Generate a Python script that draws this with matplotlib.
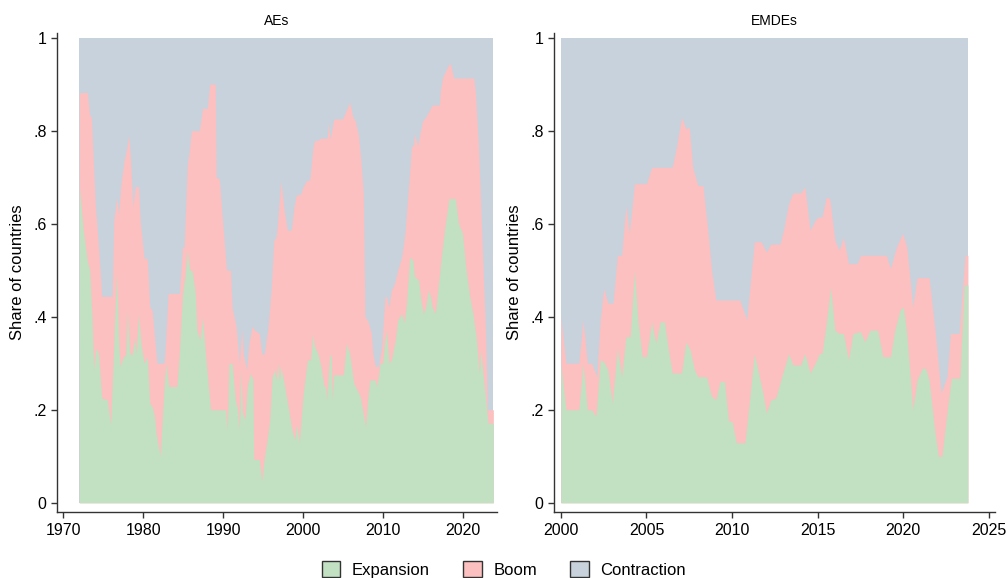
import numpy as np
import matplotlib
matplotlib.use("Agg")
import matplotlib.pyplot as plt
from matplotlib.patches import Patch

plt.rcParams['font.family'] = ['Liberation Sans', 'DejaVu Sans']

# AEs: top of Boom band (Expansion + Boom)
ae_total_x = [1972.0, 1972.3, 1973.0, 1973.3, 1973.5, 1974.0, 1974.4, 1974.8, 1976.1, 1976.3, 1976.7,
              1976.9, 1977.2, 1977.6, 1977.8, 1978.2, 1978.4, 1978.7, 1979.0, 1979.4, 1979.6, 1980.1,
              1980.5, 1980.8, 1981.1, 1981.7, 1982.6, 1982.8, 1983.1, 1984.5, 1984.9, 1985.1, 1985.5,
              1985.7, 1986.0, 1987.0, 1987.4, 1988.0, 1988.3, 1989.0, 1989.1, 1989.5, 1989.9, 1990.4,
              1990.9, 1991.1, 1991.6, 1992.0, 1992.3, 1992.5, 1992.9, 1993.2, 1993.6, 1993.9, 1994.5,
              1994.8, 1995.1, 1995.6, 1996.0, 1996.3, 1996.6, 1996.8, 1997.2, 1997.6, 1998.0, 1998.5,
              1998.8, 1999.1, 1999.7, 1999.95, 2000.4, 2000.8, 2001.2, 2001.4, 2001.8, 2002.2, 2003.0,
              2003.1, 2003.35, 2003.8, 2004.9, 2005.8, 2006.2, 2006.5, 2006.9, 2007.2, 2007.5, 2007.7,
              2008.1, 2008.5, 2008.7, 2009.0, 2009.4, 2009.8, 2010.2, 2010.4, 2010.7, 2011.0, 2011.4,
              2011.8, 2012.3, 2012.7, 2013.3, 2013.5, 2013.8, 2013.9, 2014.3, 2014.6, 2014.9, 2015.3,
              2016.1, 2017.0, 2017.1, 2017.4, 2018.2, 2018.4, 2018.8, 2021.3, 2021.5, 2021.9, 2022.4,
              2022.8, 2023.0, 2023.75]
ae_total = [0.88, 0.882, 0.882, 0.832, 0.83, 0.64, 0.55, 0.444, 0.444, 0.607, 0.657,
            0.62, 0.686, 0.736, 0.75, 0.79, 0.736, 0.636, 0.68, 0.68, 0.607, 0.525,
            0.525, 0.421, 0.414, 0.30, 0.30, 0.35, 0.45, 0.45, 0.55, 0.55, 0.729,
            0.75, 0.80, 0.80, 0.848, 0.848, 0.90, 0.90, 0.70, 0.696, 0.607, 0.50,
            0.50, 0.42, 0.379, 0.30, 0.375, 0.32, 0.286, 0.343, 0.38, 0.371, 0.364,
            0.321, 0.318, 0.379, 0.464, 0.564, 0.571, 0.607, 0.693, 0.629, 0.586, 0.586,
            0.632, 0.661, 0.664, 0.679, 0.693, 0.693, 0.764, 0.779, 0.779, 0.784, 0.784,
            0.818, 0.782, 0.825, 0.825, 0.861, 0.829, 0.821, 0.789, 0.736, 0.664, 0.40,
            0.39, 0.364, 0.32, 0.293, 0.293, 0.336, 0.443, 0.443, 0.421, 0.457, 0.471,
            0.50, 0.529, 0.579, 0.714, 0.764, 0.771, 0.793, 0.768, 0.796, 0.821, 0.829,
            0.855, 0.855, 0.882, 0.914, 0.943, 0.943, 0.913, 0.913, 0.886, 0.764, 0.536,
            0.357, 0.20, 0.20]

# AEs: top of Expansion band
ae_exp_x = [1972.0, 1972.5, 1973.0, 1973.3, 1973.6, 1973.8, 1974.05, 1974.4, 1974.8, 1975.5, 1975.9,
            1976.1, 1976.5, 1976.7, 1976.9, 1977.1, 1977.5, 1977.8, 1978.0, 1978.3, 1978.6, 1978.9,
            1979.1, 1979.4, 1979.7, 1980.1, 1980.5, 1980.8, 1981.1, 1981.4, 1981.6, 1982.1, 1982.6,
            1982.8, 1983.2, 1984.2, 1984.5, 1984.9, 1985.2, 1985.5, 1985.8, 1986.1, 1986.5, 1986.7,
            1987.1, 1987.4, 1987.8, 1988.4, 1990.3, 1990.5, 1990.7, 1991.1, 1991.5, 1991.8, 1992.0,
            1992.2, 1992.4, 1992.7, 1993.0, 1993.4, 1993.7, 1993.8, 1994.5, 1994.8, 1995.1, 1995.6,
            1995.8, 1996.1, 1996.4, 1996.6, 1996.8, 1997.0, 1997.2, 1997.6, 1998.1, 1998.5, 1998.9,
            1999.2, 1999.5, 1999.95, 2000.5, 2000.9, 2001.2, 2001.4, 2001.8, 2002.2, 2002.6, 2002.8,
            2002.9, 2003.3, 2003.5, 2003.6, 2003.8, 2005.0, 2005.4, 2005.8, 2006.3, 2006.9, 2007.1,
            2007.8, 2008.0, 2008.3, 2009.0, 2009.2, 2009.6, 2009.9, 2010.2, 2010.4, 2010.7, 2011.0,
            2011.5, 2011.8, 2012.3, 2012.6, 2012.9, 2013.3, 2013.7, 2013.9, 2014.4, 2014.7, 2015.0,
            2015.3, 2015.6, 2015.9, 2016.1, 2016.5, 2016.9, 2017.3, 2017.7, 2018.2, 2019.0, 2019.4,
            2019.9, 2020.3, 2020.8, 2021.2, 2021.6, 2022.0, 2022.2, 2022.5, 2022.8, 2023.1, 2023.75]
ae_exp = [0.68, 0.586, 0.52, 0.50, 0.393, 0.286, 0.332, 0.321, 0.225, 0.221, 0.168,
          0.25, 0.429, 0.493, 0.35, 0.293, 0.314, 0.318, 0.414, 0.321, 0.318, 0.354,
          0.321, 0.407, 0.343, 0.30, 0.314, 0.214, 0.207, 0.186, 0.15, 0.10, 0.25,
          0.30, 0.25, 0.25, 0.321, 0.45, 0.486, 0.543, 0.50, 0.50, 0.45, 0.371,
          0.35, 0.40, 0.314, 0.20, 0.20, 0.157, 0.30, 0.30, 0.221, 0.20, 0.157,
          0.286, 0.193, 0.179, 0.25, 0.279, 0.264, 0.093, 0.093, 0.046, 0.093, 0.15,
          0.179, 0.271, 0.286, 0.264, 0.30, 0.264, 0.293, 0.257, 0.207, 0.164, 0.136,
          0.168, 0.129, 0.229, 0.307, 0.307, 0.364, 0.336, 0.321, 0.293, 0.25, 0.25,
          0.221, 0.32, 0.314, 0.221, 0.275, 0.275, 0.343, 0.32, 0.257, 0.236, 0.229,
          0.164, 0.214, 0.264, 0.264, 0.25, 0.30, 0.30, 0.35, 0.371, 0.30, 0.307,
          0.35, 0.393, 0.407, 0.386, 0.429, 0.529, 0.521, 0.486, 0.479, 0.436, 0.407,
          0.421, 0.457, 0.443, 0.421, 0.407, 0.471, 0.536, 0.593, 0.654, 0.654, 0.60,
          0.579, 0.507, 0.443, 0.407, 0.357, 0.279, 0.329, 0.271, 0.221, 0.171, 0.171]

# EMDEs: top of Boom band (Expansion + Boom)
em_total_x = [2000.0, 2000.3, 2001.05, 2001.3, 2001.55, 2001.8, 2002.1, 2002.3, 2002.5, 2002.75,
              2003.05, 2003.3, 2003.55, 2003.8, 2004.0, 2004.3, 2005.0, 2005.3, 2006.5, 2006.75,
              2007.05, 2007.3, 2007.5, 2007.7, 2008.0, 2008.3, 2008.6, 2008.8, 2009.05, 2010.45,
              2010.85, 2011.1, 2011.3, 2011.7, 2012.0, 2012.25, 2012.8, 2013.0, 2013.3, 2013.55,
              2014.0, 2014.25, 2014.55, 2014.85, 2015.0, 2015.25, 2015.5, 2015.7, 2016.0, 2016.25,
              2016.5, 2016.8, 2017.3, 2017.5, 2019.0, 2019.25, 2019.6, 2019.95, 2020.2, 2020.55,
              2020.8, 2021.5, 2021.85, 2022.2, 2022.55, 2022.75, 2023.25, 2023.6, 2023.77]
em_total = [0.40, 0.30, 0.30, 0.393, 0.30, 0.30, 0.271, 0.393, 0.461, 0.429,
            0.429, 0.532, 0.532, 0.639, 0.579, 0.686, 0.686, 0.721, 0.721, 0.764,
            0.829, 0.804, 0.807, 0.721, 0.682, 0.682, 0.579, 0.50, 0.436, 0.436,
            0.393, 0.486, 0.561, 0.561, 0.539, 0.556, 0.556, 0.586, 0.643, 0.666,
            0.666, 0.679, 0.586, 0.607, 0.614, 0.614, 0.657, 0.654, 0.564, 0.543,
            0.571, 0.514, 0.514, 0.532, 0.532, 0.504, 0.55, 0.579, 0.55, 0.421,
            0.484, 0.484, 0.371, 0.236, 0.271, 0.364, 0.364, 0.532, 0.532]

# EMDEs: top of Expansion band
em_exp_x = [2000.0, 2000.3, 2001.05, 2001.3, 2001.55, 2001.8, 2002.05, 2002.3, 2002.5, 2002.75,
            2003.0, 2003.3, 2003.55, 2003.8, 2004.05, 2004.3, 2004.5, 2004.75, 2005.0, 2005.3,
            2005.55, 2005.8, 2006.05, 2006.25, 2006.5, 2007.05, 2007.3, 2007.55, 2007.8, 2008.0,
            2008.5, 2008.8, 2009.05, 2009.3, 2009.55, 2009.8, 2010.0, 2010.25, 2010.75, 2011.0,
            2011.3, 2011.5, 2011.8, 2012.0, 2012.25, 2012.55, 2012.9, 2013.3, 2013.55, 2014.0,
            2014.25, 2014.55, 2014.85, 2015.1, 2015.25, 2015.5, 2015.75, 2016.0, 2016.25, 2016.5,
            2016.8, 2017.05, 2017.5, 2017.75, 2018.05, 2018.5, 2018.8, 2019.25, 2019.5, 2019.8,
            2020.0, 2020.2, 2020.55, 2020.8, 2021.1, 2021.3, 2021.5, 2021.85, 2022.05, 2022.25,
            2022.5, 2022.8, 2023.3, 2023.55, 2023.77]
em_exp = [0.30, 0.20, 0.20, 0.30, 0.20, 0.20, 0.186, 0.307, 0.304, 0.286,
          0.214, 0.332, 0.271, 0.357, 0.357, 0.50, 0.393, 0.314, 0.314, 0.389,
          0.343, 0.389, 0.389, 0.336, 0.279, 0.279, 0.346, 0.329, 0.286, 0.271,
          0.271, 0.229, 0.221, 0.261, 0.261, 0.175, 0.175, 0.129, 0.129, 0.214,
          0.321, 0.286, 0.236, 0.193, 0.221, 0.225, 0.271, 0.321, 0.296, 0.296,
          0.321, 0.279, 0.30, 0.321, 0.321, 0.386, 0.464, 0.371, 0.364, 0.364,
          0.307, 0.364, 0.368, 0.346, 0.371, 0.371, 0.314, 0.314, 0.371, 0.414,
          0.421, 0.364, 0.20, 0.264, 0.289, 0.289, 0.264, 0.15, 0.10, 0.10,
          0.179, 0.268, 0.268, 0.468, 0.468]

c_exp = '#c2e0c2'
c_boom = '#fcc0c0'
c_con = '#c8d2dc'
spine_c = '#333333'

fig = plt.figure(figsize=(10.08, 5.78), dpi=100)
ax1 = fig.add_axes([0.0565, 0.114, 0.4365, 0.829])
ax2 = fig.add_axes([0.5496, 0.114, 0.4375, 0.829])

panels = [
    (ax1, 'AEs', ae_total_x, ae_total, ae_exp_x, ae_exp, (1969.2, 2024.2), [1970, 1980, 1990, 2000, 2010, 2020]),
    (ax2, 'EMDEs', em_total_x, em_total, em_exp_x, em_exp, (1999.6, 2025.35), [2000, 2005, 2010, 2015, 2020, 2025]),
]

for ax, title, tx, tv, ex, ev, xl, xt in panels:
    # contraction fills the rest up to 1
    ax.fill_between([tx[0], tx[-1]], 0, 1, color=c_con, lw=0)
    ax.fill_between(tx, 0, tv, color=c_boom, lw=0)
    ax.fill_between(ex, 0, ev, color=c_exp, lw=0)
    ax.set_xlim(*xl)
    ax.set_ylim(-0.02, 1.01)
    ax.set_xticks(xt)
    ax.set_yticks([0, 0.2, 0.4, 0.6, 0.8, 1])
    ax.set_yticklabels(['0', '.2', '.4', '.6', '.8', '1'])
    ax.set_title(title, fontsize=10, pad=6)
    ax.set_ylabel('Share of countries', fontsize=12, labelpad=6)
    for s in ['top', 'right']:
        ax.spines[s].set_visible(False)
    for s in ['left', 'bottom']:
        ax.spines[s].set_color(spine_c)
        ax.spines[s].set_linewidth(1.0)
    ax.tick_params(axis='both', labelsize=11.5, colors=spine_c, labelcolor='black', length=4, width=1)

handles = [Patch(facecolor=c_exp, edgecolor='#333333', label='Expansion'),
           Patch(facecolor=c_boom, edgecolor='#333333', label='Boom'),
           Patch(facecolor=c_con, edgecolor='#333333', label='Contraction')]
fig.legend(handles=handles, loc='center', bbox_to_anchor=(0.5, 0.015), ncol=3, frameon=False,
           fontsize=12, handlelength=1.1, handleheight=1.1, columnspacing=2.0, handletextpad=0.7)

fig.savefig('out.png', dpi=100)
